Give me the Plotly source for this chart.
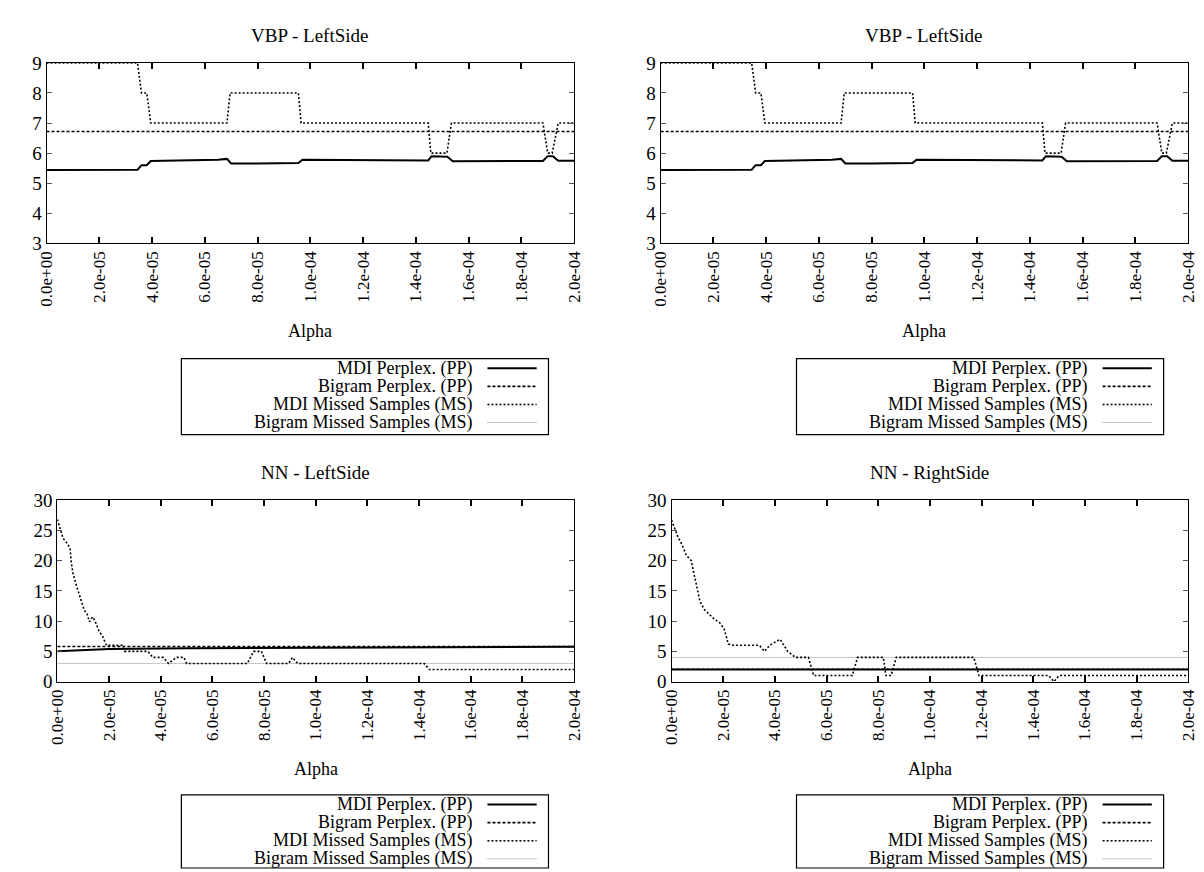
import plotly.graph_objects as go

W, H = 1204, 872

# ---------------- data ----------------
alpha_ticks = [0, 2e-5, 4e-5, 6e-5, 8e-5, 1.0e-4, 1.2e-4, 1.4e-4, 1.6e-4, 1.8e-4, 2.0e-4]
alpha_tick_labels = ["0.0e+00", "2.0e-05", "4.0e-05", "6.0e-05", "8.0e-05", "1.0e-04",
                     "1.2e-04", "1.4e-04", "1.6e-04", "1.8e-04", "2.0e-04"]
vbp_yticks = [3, 4, 5, 6, 7, 8, 9]
nn_yticks = [0, 5, 10, 15, 20, 25, 30]

series_names = ["MDI Perplex. (PP)", "Bigram Perplex. (PP)",
                "MDI Missed Samples (MS)", "Bigram Missed Samples (MS)"]
panel_titles = ["VBP - LeftSide", "VBP - LeftSide", "NN - LeftSide", "NN - RightSide"]

# VBP (both upper panels show the same data)
vbp_mdi_pp_x = [0, 3.45e-5, 3.6e-5, 3.8e-5, 3.95e-5, 5.0e-5, 5.6e-5, 6.5e-5, 6.84e-5, 7.0e-5,
                8.0e-5, 9.55e-5, 9.7e-5, 1.1e-4, 1.3e-4, 1.447e-4, 1.46e-4, 1.52e-4, 1.54e-4,
                1.7e-4, 1.882e-4, 1.9e-4, 1.92e-4, 1.94e-4, 2.0e-4]
vbp_mdi_pp_y = [5.44, 5.45, 5.60, 5.60, 5.74, 5.75, 5.78, 5.78, 5.81, 5.66,
                5.66, 5.67, 5.78, 5.77, 5.76, 5.76, 5.90, 5.88, 5.73,
                5.74, 5.74, 5.90, 5.90, 5.75, 5.75]
vbp_bigram_pp_x = [0, 2.0e-4]
vbp_bigram_pp_y = [6.72, 6.72]
vbp_mdi_ms_x = [0, 3.45e-5, 3.6e-5, 3.8e-5, 3.95e-5, 6.84e-5, 6.96e-5, 9.55e-5, 9.65e-5,
                1.447e-4, 1.457e-4, 1.518e-4, 1.535e-4, 1.882e-4, 1.9e-4, 1.917e-4, 1.94e-4, 2.0e-4]
vbp_mdi_ms_y = [9, 9, 8, 8, 7, 7, 8, 8, 7, 7, 6, 6, 7, 7, 6, 6, 7, 7]
vbp_bigram_ms_x = [0, 2.0e-4]
vbp_bigram_ms_y = [3, 3]

# NN - LeftSide
nnl_mdi_pp_x = [0, 1.0e-5, 2.0e-5, 5.0e-5, 1.0e-4, 1.5e-4, 2.0e-4]
nnl_mdi_pp_y = [5.0, 5.25, 5.4, 5.5, 5.6, 5.7, 5.75]
nnl_bigram_pp_x = [0, 2.0e-4]
nnl_bigram_pp_y = [5.8, 5.8]
nnl_mdi_ms_x = [0, 0.13e-5, 0.22e-5, 0.41e-5, 0.5e-5, 0.53e-5, 0.6e-5, 0.7e-5, 0.82e-5, 0.92e-5,
                1.04e-5, 1.15e-5, 1.24e-5, 1.36e-5, 1.46e-5, 1.62e-5, 1.75e-5, 1.9e-5, 2.5e-5,
                2.6e-5, 3.5e-5, 3.7e-5, 4.1e-5, 4.3e-5, 4.6e-5, 4.9e-5, 5.0e-5, 7.35e-5, 7.6e-5,
                7.9e-5, 8.1e-5, 8.95e-5, 9.1e-5, 9.3e-5, 1.42e-4, 1.44e-4, 2.0e-4]
nnl_mdi_ms_y = [26.8, 25.1, 23.7, 22.7, 21.8, 20.0, 18.0, 16.4, 14.8, 13.2,
                11.8, 11.2, 9.9, 10.7, 10.0, 8.3, 7.5, 6.0, 6.0,
                5.0, 5.0, 4.0, 4.0, 3.0, 4.0, 4.0, 3.0, 3.0, 5.0,
                5.0, 3.0, 3.0, 4.0, 3.0, 3.0, 2.0, 2.0]
nnl_bigram_ms_x = [0, 2.0e-4]
nnl_bigram_ms_y = [3, 3]

# NN - RightSide
nnr_mdi_pp_x = [0, 2.0e-4]
nnr_mdi_pp_y = [2.0, 2.0]
nnr_bigram_pp_x = [0, 2.0e-4]
nnr_bigram_pp_y = [2.05, 2.05]
nnr_mdi_ms_x = [0, 0.13e-5, 0.25e-5, 0.42e-5, 0.57e-5, 0.76e-5, 0.83e-5, 0.93e-5, 1.02e-5, 1.1e-5,
                1.27e-5, 1.46e-5, 1.66e-5, 1.85e-5, 2.04e-5, 2.2e-5, 2.4e-5, 3.4e-5, 3.6e-5,
                3.8e-5, 4.2e-5, 4.5e-5, 4.8e-5, 5.3e-5, 5.5e-5, 7.0e-5, 7.2e-5, 8.2e-5, 8.3e-5,
                8.5e-5, 8.7e-5, 1.17e-4, 1.19e-4, 1.46e-4, 1.48e-4, 1.5e-4, 2.0e-4]
nnr_mdi_ms_y = [26.7, 25.2, 23.9, 22.5, 20.9, 20.0, 18.7, 16.5, 14.9, 13.3,
                11.9, 11.1, 10.3, 9.8, 8.7, 6.2, 6.0, 6.0, 5.0,
                6.0, 7.0, 5.0, 4.0, 4.0, 1.0, 1.0, 4.0, 4.0, 1.0,
                1.0, 4.0, 4.0, 1.0, 1.0, 0.0, 1.0, 1.0]
nnr_bigram_ms_x = [0, 2.0e-4]
nnr_bigram_ms_y = [4, 4]

# ---------------- styles ----------------
styles = [
    dict(color="black", width=2.0, dash="solid"),
    dict(color="black", width=1.6, dash="3px,2px"),
    dict(color="black", width=1.6, dash="2px,2px"),
    dict(color="#8c8c8c", width=1.0, dash="1px,1px"),
]

FONT = "Liberation Serif"
FS = 18

def px_x(x):
    return x / W

def px_y(y):
    return 1 - y / H

vbp_data = [(vbp_mdi_pp_x, vbp_mdi_pp_y), (vbp_bigram_pp_x, vbp_bigram_pp_y),
            (vbp_mdi_ms_x, vbp_mdi_ms_y), (vbp_bigram_ms_x, vbp_bigram_ms_y)]

# panel geometry in pixels: (left, right, top, bottom)
panels = [
    dict(box=(30, 566, 46, 231), yr=[3, 9], yt=vbp_yticks, data=vbp_data,
         legend=(167, 540, 349, 427)),
    dict(box=(654, 1190, 46, 231), yr=[3, 9], yt=vbp_yticks, data=vbp_data,
         legend=(792, 1165, 349, 427)),
    dict(box=(41, 566, 494, 680), yr=[0, 30], yt=nn_yticks,
         data=[(nnl_mdi_pp_x, nnl_mdi_pp_y), (nnl_bigram_pp_x, nnl_bigram_pp_y),
               (nnl_mdi_ms_x, nnl_mdi_ms_y), (nnl_bigram_ms_x, nnl_bigram_ms_y)],
         legend=(167, 540, 796, 871)),
    dict(box=(665, 1190, 494, 680), yr=[0, 30], yt=nn_yticks,
         data=[(nnr_mdi_pp_x, nnr_mdi_pp_y), (nnr_bigram_pp_x, nnr_bigram_pp_y),
               (nnr_mdi_ms_x, nnr_mdi_ms_y), (nnr_bigram_ms_x, nnr_bigram_ms_y)],
         legend=(792, 1165, 796, 871)),
]

fig = go.Figure()
layout = dict(width=W, height=H, margin=dict(l=0, r=0, t=0, b=0),
              paper_bgcolor="white", plot_bgcolor="white",
              font=dict(family=FONT, size=FS, color="black"), showlegend=False)
annotations = []
shapes = []

for i, p in enumerate(panels):
    n = i + 1
    xa = "xaxis" if n == 1 else f"xaxis{n}"
    ya = "yaxis" if n == 1 else f"yaxis{n}"
    xref = "x" if n == 1 else f"x{n}"
    yref = "y" if n == 1 else f"y{n}"
    L, R, T, B = p["box"]
    for k in [3, 1, 2, 0]:
        xs, ys = p["data"][k]
        fig.add_trace(go.Scatter(x=xs, y=ys, mode="lines", name=series_names[k],
                                 line=styles[k], xaxis=xref, yaxis=yref, hoverinfo="skip"))
    layout[xa] = dict(domain=[px_x(L), px_x(R)], range=[0, 2.0e-4], anchor=yref,
                      tickvals=alpha_ticks, ticktext=alpha_tick_labels, tickangle=-90,
                      ticks="inside", ticklen=6, tickwidth=1.5, tickcolor="black",
                      showline=True, linecolor="black", linewidth=1.2, mirror="ticks",
                      showgrid=False, zeroline=False,
                      tickfont=dict(family=FONT, size=17))
    layout[ya] = dict(domain=[px_y(B), px_y(T)], range=p["yr"], anchor=xref,
                      tickvals=p["yt"], ticks="inside", ticklen=5, tickwidth=1,
                      tickcolor="#555555",
                      showline=True, linecolor="black", linewidth=1.2, mirror="ticks",
                      showgrid=False, zeroline=False,
                      tickfont=dict(family=FONT, size=19))
    cx = (L + R) / 2
    annotations.append(dict(text=panel_titles[i], xref="paper", yref="paper",
                            x=px_x(cx), y=px_y(T - 28), xanchor="center", yanchor="middle",
                            showarrow=False, font=dict(family=FONT, size=19)))
    annotations.append(dict(text="Alpha", xref="paper", yref="paper",
                            x=px_x(cx), y=px_y(B + 90), xanchor="center", yanchor="middle",
                            showarrow=False, font=dict(family=FONT, size=FS)))
    # legend box (gnuplot style: text right-aligned, sample line on the right)
    lL, lR, lT, lB = p["legend"]
    shapes.append(dict(type="rect", xref="paper", yref="paper",
                       x0=px_x(lL), x1=px_x(lR), y0=px_y(lB), y1=px_y(lT),
                       line=dict(color="black", width=1.2)))
    for k in range(4):
        yc = lT + 10 + 18.5 * k
        annotations.append(dict(text=series_names[k], xref="paper", yref="paper",
                                x=px_x(lR - 75), y=px_y(yc), xanchor="right", yanchor="middle",
                                showarrow=False, font=dict(family=FONT, size=FS)))
        shapes.append(dict(type="line", xref="paper", yref="paper",
                           x0=px_x(lR - 62), x1=px_x(lR - 12), y0=px_y(yc), y1=px_y(yc),
                           line=styles[k]))

layout["annotations"] = annotations
layout["shapes"] = shapes
fig.update_layout(**layout)
fig.write_html("out.html")
